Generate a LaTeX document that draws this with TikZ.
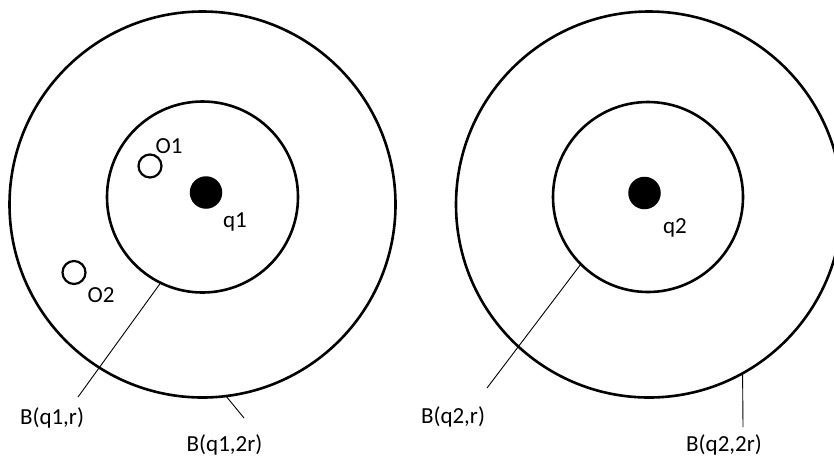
\documentclass[tikz,border=0pt]{standalone}
\usepackage{fontspec}
\setmainfont{Carlito}
\begin{document}
\begin{tikzpicture}[x=1pt,y=-1pt,
  ring/.style={circle, draw, line width=2.6pt, inner sep=0pt, outer sep=0pt},
  obj/.style={circle, draw, line width=2.2pt, inner sep=0pt, outer sep=0pt, minimum size=23pt},
  dot/.style={circle, fill=black, inner sep=0pt, outer sep=0pt, minimum size=32.5pt},
  lbl/.style={inner sep=0pt, font=\fontsize{23}{27}\selectfont},
  leader/.style={line width=0.9pt}]
\useasboundingbox (0,0) rectangle (834,464);
\clip (0,0) rectangle (834,464);
% left
\node[ring, minimum size=386pt] (out1) at (202.5,204.5) {};
\node[ring, minimum size=191pt] (in1) at (202.5,197) {};
\node[dot] (q1) at (206,192.5) {};
\node[lbl] (q1t) at (235,222) {q1};
\node[obj] (o1) at (150,166) {};
\node[lbl] (o1t) at (169,146) {O1};
\node[obj] (o2) at (74,272.5) {};
\node[lbl] (o2t) at (101,295) {O2};
\coordinate (e1) at (78,397);
\coordinate (e2) at (244,418);
\draw[leader] (in1.244) -- (e1);
\draw[leader] (out1.277.5) -- (e2);
\node[lbl] (b1) at (52,418) {B(q1,r)};
\node[lbl] (b2) at (224.5,445) {B(q1,2r)};
% right
\node[ring, minimum size=386pt] (out2) at (649,204.5) {};
\node[ring, minimum size=190pt] (in2) at (648,197) {};
\node[dot] (q2) at (644.5,193) {};
\node[lbl] (q2t) at (675,228) {q2};
\coordinate (e3) at (487,388);
\coordinate (e4) at (743,427);
\draw[leader] (in2.225.4) -- (e3);
\draw[leader] (out2.299) -- (e4);
\node[lbl] (b3) at (453,417) {B(q2,r)};
\node[lbl] (b4) at (724,445) {B(q2,2r)};
\end{tikzpicture}
\end{document}
